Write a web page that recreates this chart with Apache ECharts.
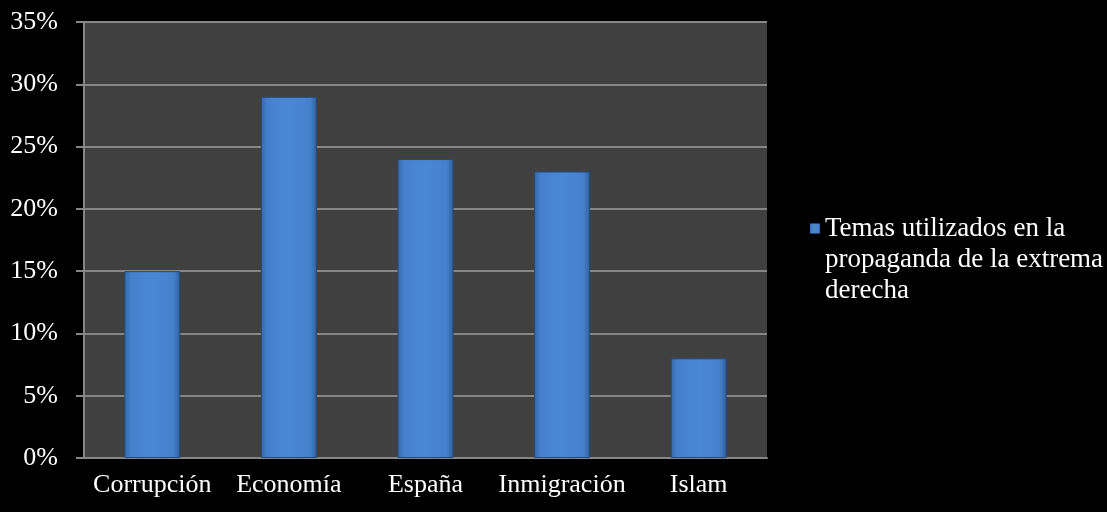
<!DOCTYPE html>
<html>
<head>
    <meta charset="utf-8">
    <title>Temas propaganda</title>
    <script src="https://cdn.jsdelivr.net/npm/echarts@6/dist/echarts.min.js"></script>
    <style>
        html, body { margin: 0; padding: 0; background: #000; }
    </style>
</head>
<body>
    <div id="chart" style="width: 1107px; height: 512px;"></div>

    <script type="text/javascript">
        var categories = ['Corrupción', 'Economía', 'España', 'Inmigración', 'Islam'];
        var values = [15, 29, 24, 23, 8];
        var seriesName = 'Temas utilizados en la propaganda de la extrema derecha';

        var font = '"Liberation Serif", "Times New Roman", serif';

        var barColor = new echarts.graphic.LinearGradient(0, 0, 1, 0, [
            { offset: 0, color: '#3668a8' },
            { offset: 0.12, color: '#4680cc' },
            { offset: 0.5, color: '#4a88d4' },
            { offset: 0.88, color: '#4680cc' },
            { offset: 1, color: '#2f5f9c' }
        ]);

        // square at the height of the first text line, tiny dots only stretch the box
        var legendIcon = 'path://M0,0h0.001v0.001h-0.001z M0,10.5h10v10h-10z M0,93h0.001v0.001h-0.001z';

        var chart = echarts.init(document.getElementById('chart'));
        chart.setOption({
            backgroundColor: '#000000',
            animation: false,
            grid: {
                left: 84,
                right: 340,
                top: 22,
                bottom: 54,
                show: true,
                backgroundColor: '#404040',
                borderWidth: 0
            },
            legend: {
                left: 805,
                top: 208,
                orient: 'vertical',
                itemWidth: 10,
                itemHeight: 93,
                icon: legendIcon,
                itemStyle: { borderWidth: 0 },
                data: [seriesName],
                formatter: function () {
                    return 'Temas utilizados en la\npropaganda de la extrema\nderecha';
                },
                textStyle: {
                    color: '#ffffff',
                    fontFamily: font,
                    fontSize: 27,
                    lineHeight: 31
                }
            },
            xAxis: {
                type: 'category',
                data: categories,
                axisLine: { lineStyle: { color: '#868686', width: 2 } },
                axisTick: { length: 7, lineStyle: { color: '#868686', width: 2 } },
                axisLabel: {
                    color: '#ffffff',
                    fontFamily: font,
                    fontSize: 26,
                    margin: 14,
                    interval: 0
                }
            },
            yAxis: {
                type: 'value',
                min: 0,
                max: 35,
                interval: 5,
                axisLine: { show: true, lineStyle: { color: '#868686', width: 2 } },
                axisTick: { show: true, length: 8, lineStyle: { color: '#868686', width: 2 } },
                splitLine: { lineStyle: { color: '#868686', width: 2 } },
                axisLabel: {
                    color: '#ffffff',
                    fontFamily: font,
                    fontSize: 26,
                    margin: 26,
                    formatter: '{value}%'
                }
            },
            series: [
                {
                    name: seriesName,
                    type: 'bar',
                    data: values,
                    barWidth: '41%',
                    itemStyle: {
                        color: barColor,
                        borderColor: '#24497a',
                        borderWidth: 1
                    }
                }
            ]
        });
    </script>
</body>
</html>
